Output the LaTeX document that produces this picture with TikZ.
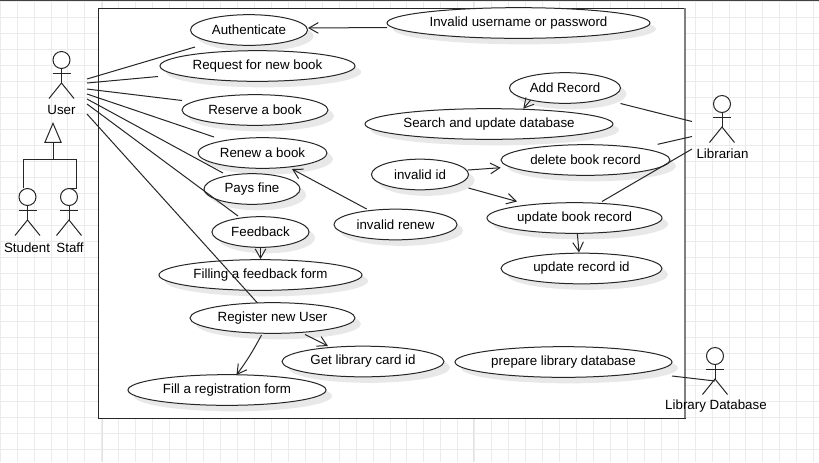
\documentclass[tikz,border=0pt]{standalone}
\usepackage{fontspec}
\setmainfont{Liberation Sans}
\usetikzlibrary{shapes.geometric,shadows,arrows.meta}

\newcommand{\uctext}[1]{\makebox[0pt]{#1}}

\tikzset{
  gridline/.style={draw=black!8, line width=0.5pt},
  usecase/.style={ellipse, draw=black!85, fill=white, line width=0.75pt, inner sep=0pt,
    minimum height=23pt, minimum width=#1*0.75pt, font=\fontsize{10}{12}\selectfont,
    drop shadow={shadow xshift=4.5pt, shadow yshift=-4.5pt, fill=black!9, opacity=1}},
  assoc/.style={draw=black!85, line width=0.75pt},
  dep/.style={assoc, -{Straight Barb[length=7pt,width=8pt]}},
  actorhead/.style={circle, draw=black!85, fill=white, line width=0.75pt, inner sep=0pt, minimum size=12.75pt},
  actorlabel/.style={inner sep=0pt, font=\fontsize{10}{12}\selectfont},
  stickman/.pic={
    \draw[assoc] (-9,13) -- (9,13);
    \draw[assoc] (0,8.5) -- (0,23);
    \draw[assoc] (-12.5,38.5) -- (0,23) -- (12.5,38.5);
  }
}

\begin{document}
\begin{tikzpicture}[x=0.75pt, y=-0.75pt]

\useasboundingbox (0,0) rectangle (819,462);

% grid paper behind the diagram
\foreach \gx in {0,...,48} {
  \draw[gridline] (\gx*16.95,0) -- (\gx*16.95,462);
}
\foreach \gy in {0,...,28} {
  \draw[gridline] (0,\gy*16+1) -- (819,\gy*16+1);
}
\draw[draw=black!11, line width=0.75pt] (102,0) -- (102,462);
\draw[draw=black!11, line width=0.75pt] (473,0) -- (473,462);
\draw[draw=black!75, line width=0.75pt] (0,0.5) -- (819,0.5);

% system boundary
\filldraw[fill=white, draw=black!85, line width=0.75pt] (98.5,8) rectangle (685,418);
\draw[draw=black!50, line width=1.5pt] (685,8) -- (685,418);

% use cases
\node[usecase=263] (invalidlogin) at (518.5,23) {\uctext{Invalid username or password}};
\node[usecase=117] (authenticate) at (249,30) {\uctext{Authenticate}};
\node[usecase=195] (request) at (257.5,66) {\uctext{Request for new book}};
\node[usecase=111] (addrecord) at (565,88) {\uctext{Add Record}};
\node[usecase=146] (reserve) at (255,110) {\uctext{Reserve  a book}};
\node[usecase=248] (search) at (489,124) {\uctext{Search and update database}};
\node[usecase=129] (renew) at (262.5,153) {\uctext{Renew a book}};
\node[usecase=169] (deleterecord) at (585.5,160) {\uctext{delete book record}};
\node[usecase=97] (invalidid) at (420,174.5) {\uctext{invalid id}};
\node[usecase=96] (pays) at (252,189) {\uctext{Pays fine}};
\node[usecase=175] (updatebook) at (574.5,218) {\uctext{update book record}};
\node[usecase=123] (invalidrenew) at (395.5,224.5) {\uctext{invalid renew}};
\node[usecase=97] (feedback) at (260.5,232) {\uctext{Feedback}};
\node[usecase=161] (updateid) at (581.5,268.5) {\uctext{update record id}};
\node[usecase=203] (filling) at (260.5,275) {\uctext{Filling a feedback form}};
\node[usecase=165] (register) at (272.5,318) {\uctext{Register new User}};
\node[usecase=162] (getcard) at (363,361.5) {\uctext{Get library card id}};
\node[usecase=217] (prepare) at (563.5,362) {\uctext{prepare library database}};
\node[usecase=198] (fillreg) at (227,390) {\uctext{Fill a registration form}};

% actors
\node[actorhead] (user) at (61.5,60) {};
\pic at (user) {stickman};
\node[actorlabel] (userlabel) at (61.5,110) {User};

\node[actorhead] (student) at (27.5,197) {};
\pic at (student) {stickman};
\node[actorlabel] (studentlabel) at (27,247.5) {Student};

\node[actorhead] (staff) at (69,197) {};
\pic at (staff) {stickman};
\node[actorlabel] (stafflabel) at (70,247.5) {Staff};

\node[actorhead] (librarian) at (722,104) {};
\pic at (librarian) {stickman};
\node[actorlabel] (librarianlabel) at (722.5,154) {Librarian};

\node[actorhead] (librarydb) at (715,356) {};
\pic at (librarydb) {stickman};
\node[actorlabel] (librarydblabel) at (716,406) {Library Database};

% generalisation
\coordinate (genjoin) at (53,159.5);
\node[isosceles triangle, isosceles triangle apex angle=46, shape border rotate=90, draw=black!85, fill=white,
  line width=0.75pt, inner sep=0pt, minimum height=14.25pt, minimum width=12pt, anchor=apex] (gentip) at (53,122) {};
\draw[assoc] (gentip.south) -- (genjoin);
\draw[assoc] (student.north) ++(-4,0) |- (genjoin);
\draw[assoc] ([shift={(0,-9)}]staff.center) -- ++(7,0) |- (genjoin);

% user associations
\draw[assoc] ([shift={(25.5,19)}]user.center) -- ([shift={(-54,17)}]authenticate.center);
\draw[assoc] ([shift={(25.5,23)}]user.center) -- ([shift={(-99.5,10.5)}]request.center);
\draw[assoc] ([shift={(25.5,29)}]user.center) -- ([shift={(-73,-9.5)}]reserve.center);
\draw[assoc] ([shift={(25.5,34)}]user.center) -- ([shift={(-48.5,-16)}]renew.center);
\draw[assoc] ([shift={(25.5,39)}]user.center) -- ([shift={(-29,-16)}]pays.center);
\draw[assoc] ([shift={(25.5,44)}]user.center) -- ([shift={(-22.5,-16)}]feedback.center);
\draw[assoc] ([shift={(25.5,54)}]user.center) -- ([shift={(-15,-15)}]register.center);

% librarian and database associations
\draw[assoc] ([shift={(55.5,15.5)}]addrecord.center) -- ([shift={(-30,17.5)}]librarian.center);
\draw[assoc] ([shift={(72.2,-15.7)}]deleterecord.center) -- ([shift={(-30,32.5)}]librarian.center);
\draw[assoc] ([shift={(27.5,-16.5)}]updatebook.center) -- ([shift={(-30,45)}]librarian.center);
\draw[assoc] ([shift={(108.5,14)}]prepare.center) -- ([shift={(0,25)}]librarydb.center);

% dependencies
\draw[dep] ([shift={(-131.5,4.5)}]invalidlogin.center) -- ([shift={(59,-2)}]authenticate.center);
\draw[dep] ([shift={(-34.3,12)}]addrecord.center) -- ([shift={(34.3,-15.3)}]search.center);
\draw[dep] ([shift={(48,-4.5)}]invalidid.center) -- ([shift={(-84.8,7.7)}]deleterecord.center);
\draw[dep] ([shift={(48.5,13.5)}]invalidid.center) -- ([shift={(-57.5,-16.5)}]updatebook.center);
\draw[dep] ([shift={(2.8,15.3)}]updatebook.center) -- ([shift={(-2.5,-16)}]updateid.center);
\draw[dep] ([shift={(-28.8,-15.5)}]invalidrenew.center) -- ([shift={(29.5,16)}]renew.center);
\draw[dep] (feedback.south) -- (filling.north);
\draw[dep] ([shift={(-11,17)}]register.center) to[bend left=4] ([shift={(9.5,-15)}]fillreg.center);
\draw[dep] ([shift={(32.5,16.5)}]register.center) -- ([shift={(-35,-15.5)}]getcard.center);

\end{tikzpicture}
\end{document}
